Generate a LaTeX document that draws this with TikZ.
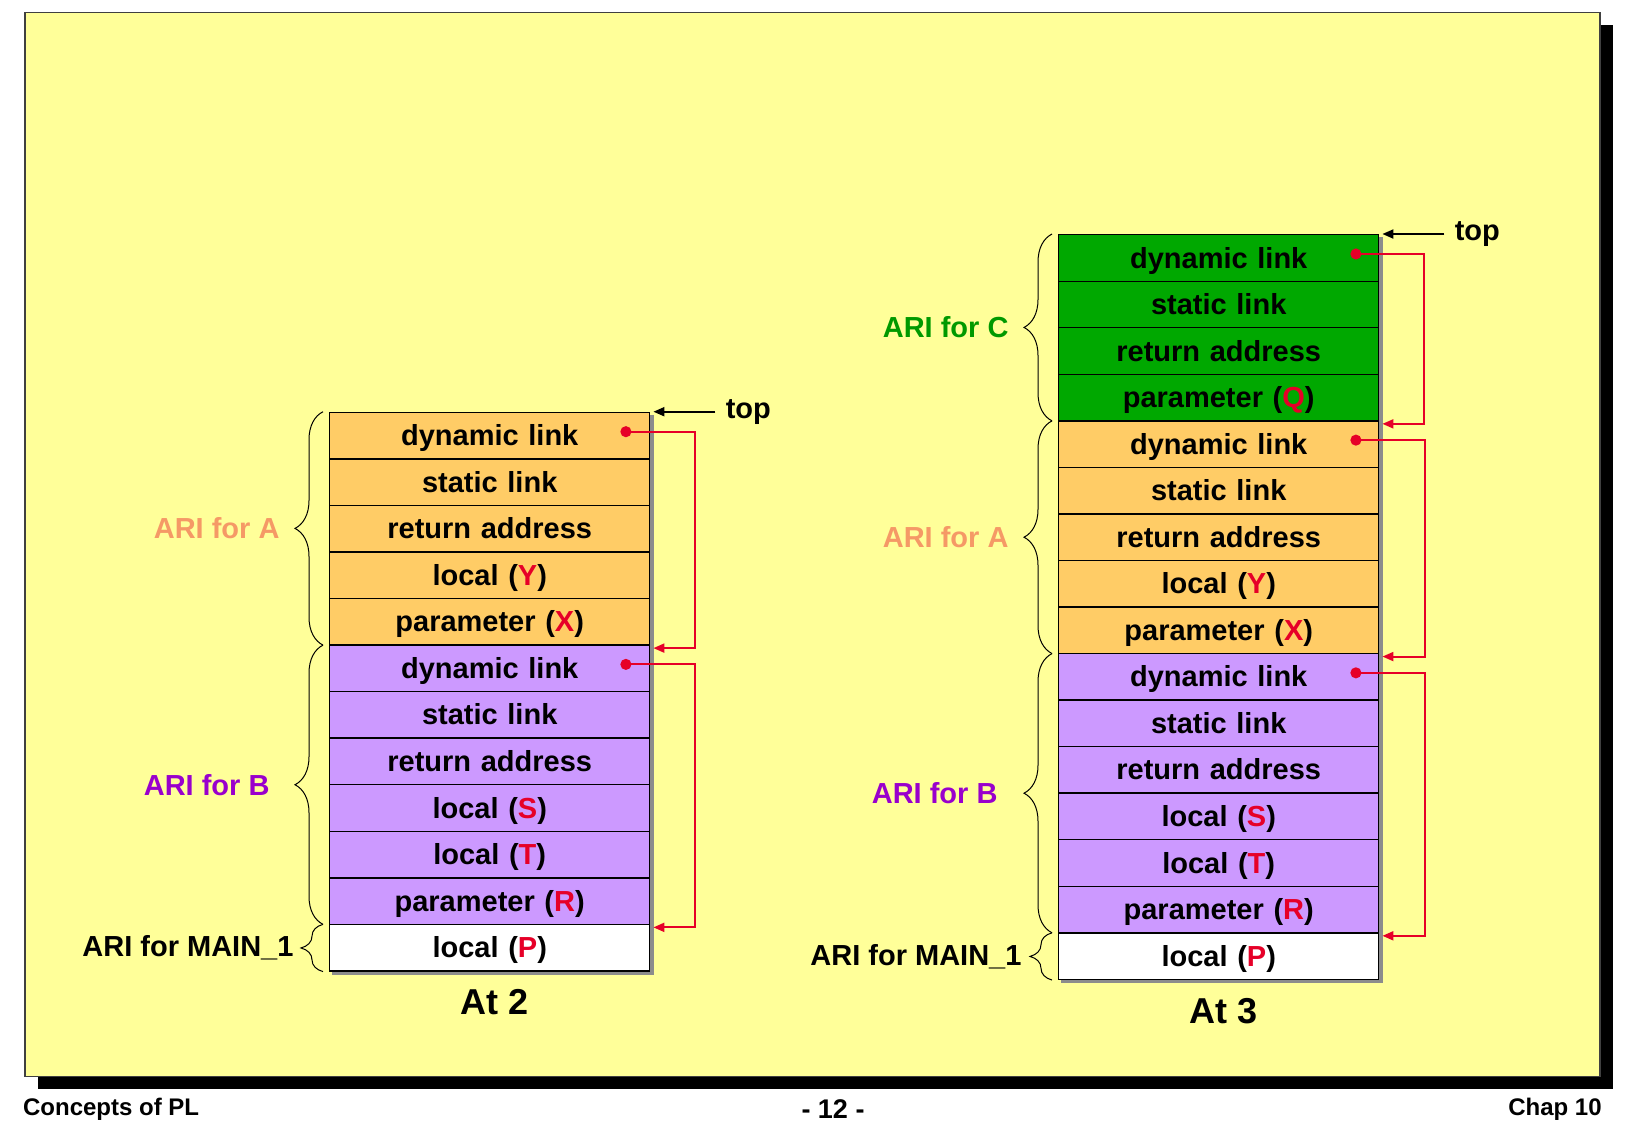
\documentclass[tikz,border=0pt]{standalone}
\usepackage{fontspec}
\setmainfont{Liberation Sans}
\usepackage{tikz}
\usetikzlibrary{shapes.multipart,positioning}
\usetikzlibrary{arrows.meta}
\usetikzlibrary{decorations.pathreplacing}
\definecolor{slide}{RGB}{255,255,153}
\definecolor{recA}{RGB}{255,204,102}
\definecolor{recB}{RGB}{204,153,255}
\definecolor{recC}{RGB}{0,168,0}
\definecolor{labA}{RGB}{245,153,102}
\definecolor{labB}{RGB}{153,0,204}
\definecolor{labC}{RGB}{0,153,0}
\definecolor{ptr}{RGB}{230,0,40}
\newcommand{\rowstrut}{\rule[-6.27pt]{0pt}{22.57pt}}
\newcommand{\rv}[1]{\textcolor{ptr}{#1}}
\pgfdeclarelayer{slidelayer}
\pgfdeclarelayer{shadelayer}
\pgfsetlayers{slidelayer,shadelayer,main}

\begin{document}
\begin{tikzpicture}[
    every node/.append style={font=\bfseries\fontsize{14.5pt}{17pt}\selectfont, inner sep=0pt},
    stack/.style={rectangle split, rectangle split parts=#1, draw, line width=0.7pt,
        text width=160pt, align=center, inner xsep=0pt, inner ysep=0pt},
    shade/.style={fill=black!45},
    ari/.style={decorate, decoration={brace, amplitude=14pt}, line width=0.5pt},
    dyn/.style={draw=ptr, line width=1pt, {Circle[length=5.5pt]}-{Triangle[length=5.5pt,width=4.5pt]}},
    topptr/.style={line width=1pt, -{Triangle[length=5.5pt,width=4.5pt]}}
  ]
  \useasboundingbox (0,0) rectangle (812.5pt,-562.5pt);
  % slide
  \begin{pgfonlayer}{slidelayer}
    \fill[black] (18.85pt,-12.5pt) rectangle (806.35pt,-544.5pt);
    \draw[fill=slide, draw=black!75, line width=0.6pt] (12.5pt,-6.15pt) rectangle (800pt,-538.35pt);
  \end{pgfonlayer}

  % stack at 2
  \node (stk2) [stack=12, anchor=north west,
        rectangle split part fill={recA,recA,recA,recA,recA,recB,recB,recB,recB,recB,recB,white}]
        at (164.5pt,-205.85pt)
        {\nodepart{one} \rowstrut dynamic link
         \nodepart{two} \rowstrut static link
         \nodepart{three} \rowstrut return address
         \nodepart{four} \rowstrut local (\rv{Y})
         \nodepart{five} \rowstrut parameter (\rv{X})
         \nodepart{six} \rowstrut dynamic link
         \nodepart{seven} \rowstrut static link
         \nodepart{eight} \rowstrut return address
         \nodepart{nine} \rowstrut local (\rv{S})
         \nodepart{ten} \rowstrut local (\rv{T})
         \nodepart{eleven} \rowstrut parameter (\rv{R})
         \nodepart{twelve} \rowstrut local (\rv{P})
        };
  \node (top2) [right=37.5pt of stk2.north east] {top};
  \node (at2) [below=8.6pt of stk2, xshift=2.5pt, font=\bfseries\fontsize{18pt}{20pt}\selectfont] {At 2};

  % stack at 3
  \node (stk3) [stack=16, anchor=north west,
        rectangle split part fill={recC,recC,recC,recC,recA,recA,recA,recA,recA,recB,recB,recB,recB,recB,recB,white}]
        at (529pt,-117pt)
        {\nodepart{one} \rowstrut dynamic link
         \nodepart{two} \rowstrut static link
         \nodepart{three} \rowstrut return address
         \nodepart{four} \rowstrut parameter (\rv{Q})
         \nodepart{five} \rowstrut dynamic link
         \nodepart{six} \rowstrut static link
         \nodepart{seven} \rowstrut return address
         \nodepart{eight} \rowstrut local (\rv{Y})
         \nodepart{nine} \rowstrut parameter (\rv{X})
         \nodepart{ten} \rowstrut dynamic link
         \nodepart{eleven} \rowstrut static link
         \nodepart{twelve} \rowstrut return address
         \nodepart{thirteen} \rowstrut local (\rv{S})
         \nodepart{fourteen} \rowstrut local (\rv{T})
         \nodepart{fifteen} \rowstrut parameter (\rv{R})
         \nodepart{sixteen} \rowstrut local (\rv{P})
        };
  \node (top3) [right=37.5pt of stk3.north east] {top};
  \node (at3) [below=8.9pt of stk3, xshift=2.5pt, font=\bfseries\fontsize{18pt}{20pt}\selectfont] {At 3};

  % shadows behind the stacks
  \begin{pgfonlayer}{shadelayer}
    \fill[shade] ([shift={(1.6pt,-1.6pt)}]stk2.south west) rectangle ([shift={(1.6pt,-1.6pt)}]stk2.north east);
    \fill[shade] ([shift={(1.6pt,-1.6pt)}]stk3.south west) rectangle ([shift={(1.6pt,-1.6pt)}]stk3.north east);
  \end{pgfonlayer}

  % braces
  \draw[ari] ([xshift=-3pt]stk2.five split west) -- ([xshift=-3pt]stk2.north west)
        node (ariA2) [midway, left=21.5pt, text=labA] {ARI for A};
  \draw[ari] ([xshift=-3pt]stk2.eleven split west) -- ([xshift=-3pt]stk2.five split west)
        node (ariB2) [midway, left=26.5pt, text=labB] {ARI for B};
  \draw[ari, decoration={amplitude=11pt}] ([xshift=-3pt]stk2.south west) -- ([xshift=-3pt]stk2.eleven split west)
        node (ariM2) [midway, left=14.5pt] {ARI for MAIN\_1};
  \draw[ari] ([xshift=-3pt]stk3.four split west) -- ([xshift=-3pt]stk3.north west)
        node (ariC3) [midway, left=21.5pt, text=labC] {ARI for C};
  \draw[ari] ([xshift=-3pt]stk3.nine split west) -- ([xshift=-3pt]stk3.four split west)
        node (ariA3) [midway, left=21.5pt, text=labA] {ARI for A};
  \draw[ari] ([xshift=-3pt]stk3.fifteen split west) -- ([xshift=-3pt]stk3.nine split west)
        node (ariB3) [midway, left=27pt, text=labB] {ARI for B};
  \draw[ari, decoration={amplitude=11pt}] ([xshift=-3pt]stk3.south west) -- ([xshift=-3pt]stk3.fifteen split west)
        node (ariM3) [midway, left=15pt] {ARI for MAIN\_1};

  % dynamic links
  \draw[dyn] ([xshift=-15pt,yshift=2pt]stk2.one east) -| ([xshift=22.5pt,yshift=-1.5pt]stk2.five split east)
        -- ([xshift=1.5pt,yshift=-1.5pt]stk2.five split east);
  \draw[dyn] ([xshift=-15pt,yshift=2pt]stk2.six east) -| ([xshift=22.5pt,yshift=-1.5pt]stk2.eleven split east)
        -- ([xshift=1.5pt,yshift=-1.5pt]stk2.eleven split east);
  \draw[dyn] ([xshift=-14.5pt,yshift=2pt]stk3.one east) -| ([xshift=22.5pt,yshift=-1.5pt]stk3.four split east)
        -- ([xshift=1.5pt,yshift=-1.5pt]stk3.four split east);
  \draw[dyn] ([xshift=-14.5pt,yshift=2pt]stk3.five east) -| ([xshift=23pt,yshift=-1.5pt]stk3.nine split east)
        -- ([xshift=1.5pt,yshift=-1.5pt]stk3.nine split east);
  \draw[dyn] ([xshift=-14.5pt,yshift=2pt]stk3.ten east) -| ([xshift=23pt,yshift=-1.5pt]stk3.fifteen split east)
        -- ([xshift=1.5pt,yshift=-1.5pt]stk3.fifteen split east);
  \draw[topptr] ([xshift=-5pt]top2.west) -- ([xshift=1.5pt]stk2.north east);
  \draw[topptr] ([xshift=-5pt]top3.west) -- ([xshift=1.5pt]stk3.north east);

  % footer
  \node (course) [anchor=base west, font=\bfseries\fontsize{12pt}{14pt}\selectfont] at (11.35pt,-557.5pt) {Concepts of PL};
  \node (page) [anchor=base, font=\bfseries\fontsize{13.5pt}{15pt}\selectfont] at (416.5pt,-559pt) {- 12 -};
  \node (chap) [anchor=base east, font=\bfseries\fontsize{12pt}{14pt}\selectfont] at (801pt,-557.5pt) {Chap 10};
\end{tikzpicture}
\end{document}
